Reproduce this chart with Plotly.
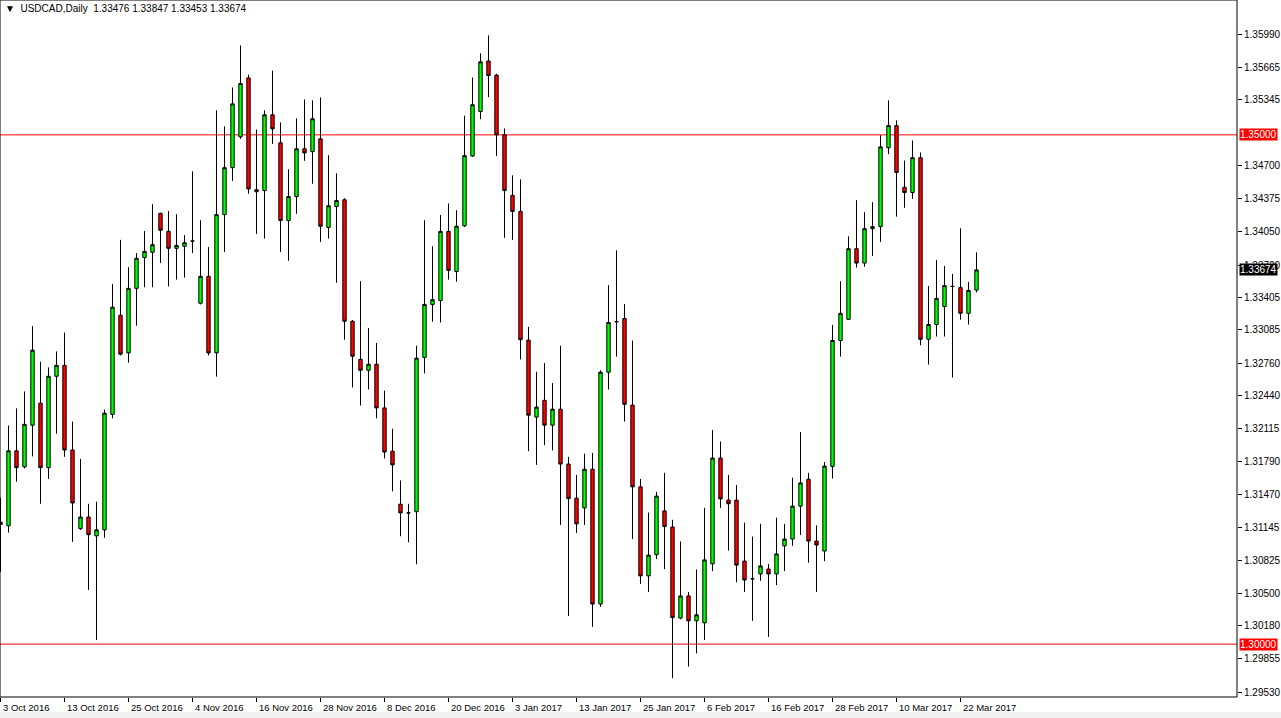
import plotly.graph_objects as go

# ---- data (USDCAD daily, 3 Oct 2016 .. 24 Mar 2017), one entry per trading bar ----
opens = [1.31197, 1.31162, 1.31898, 1.31741, 1.32150, 1.32366, 1.31733, 1.32630, 1.32737, 1.31906,
         1.31134, 1.31248, 1.31063, 1.31122, 1.32256, 1.33229, 1.32859, 1.33493, 1.33796, 1.33847,
         1.34229, 1.34052, 1.33886, 1.33906, 1.33957, 1.33347, 1.33611, 1.32859, 1.34217, 1.34678,
         1.34981, 1.35559, 1.34461, 1.34453, 1.35197, 1.34922, 1.34158, 1.34394, 1.34863, 1.34835,
         1.34961, 1.34091, 1.34296, 1.34363, 1.33170, 1.32796, 1.32689, 1.32748, 1.32319, 1.31894,
         1.31374, 1.31288, 1.31300, 1.32815, 1.33335, 1.33374, 1.34052, 1.33658, 1.34107, 1.34792,
         1.35229, 1.35725, 1.35587, 1.35000, 1.34406, 1.34248, 1.32985, 1.32229, 1.32394, 1.32150,
         1.32307, 1.31768, 1.31433, 1.31337, 1.31717, 1.30394, 1.32670, 1.33166, 1.33197, 1.32347,
         1.31544, 1.30670, 1.30878, 1.31308, 1.31150, 1.30256, 1.30473, 1.30229, 1.30209, 1.30788,
         1.31827, 1.31414, 1.31414, 1.30815, 1.30642, 1.30689, 1.30737, 1.30689, 1.30965, 1.31032,
         1.31355, 1.31619, 1.31012, 1.30914, 1.31745, 1.32981, 1.33189, 1.33882, 1.33741, 1.34079,
         1.34099, 1.34874, 1.35091, 1.34485, 1.34434, 1.34776, 1.32993, 1.33138, 1.33315, 1.33512,
         1.33500, 1.33248, 1.33476]
highs = [1.31437, 1.32146, 1.32315, 1.32481, 1.33122, 1.32772, 1.32717, 1.32874, 1.33059, 1.32185,
         1.31819, 1.31378, 1.31398, 1.32304, 1.33536, 1.33969, 1.33701, 1.33839, 1.34056, 1.34319,
         1.34237, 1.34252, 1.34221, 1.34016, 1.34642, 1.34162, 1.33898, 1.35241, 1.35083, 1.35465,
         1.35878, 1.35591, 1.35052, 1.35241, 1.35630, 1.35122, 1.34662, 1.35162, 1.35347, 1.35339,
         1.35367, 1.34800, 1.34622, 1.34378, 1.33182, 1.33563, 1.33103, 1.32957, 1.32489, 1.32115,
         1.31607, 1.31378, 1.32930, 1.34162, 1.33906, 1.34213, 1.34327, 1.34260, 1.35189, 1.35563,
         1.35800, 1.35977, 1.35599, 1.35063, 1.34603, 1.34563, 1.33115, 1.32674, 1.32760, 1.32563,
         1.32930, 1.31839, 1.31662, 1.31870, 1.31878, 1.32689, 1.33524, 1.33866, 1.33339, 1.32981,
         1.31622, 1.31292, 1.31496, 1.31682, 1.31221, 1.31008, 1.30512, 1.30733, 1.31339, 1.32103,
         1.31989, 1.31662, 1.31563, 1.31193, 1.31056, 1.31181, 1.30788, 1.31241, 1.31181, 1.31634,
         1.32083, 1.31682, 1.31166, 1.31788, 1.33134, 1.33563, 1.34004, 1.34359, 1.34241, 1.34339,
         1.34996, 1.35339, 1.35142, 1.34748, 1.34945, 1.34827, 1.33516, 1.33772, 1.33713, 1.33634,
         1.34083, 1.33556, 1.33847]
lows = [1.30709, 1.31095, 1.31595, 1.31725, 1.31843, 1.31378, 1.31622, 1.32067, 1.31839, 1.31004,
        1.31122, 1.30532, 1.30040, 1.31044, 1.32217, 1.32835, 1.32764, 1.33126, 1.33504, 1.33504,
        1.33741, 1.33512, 1.33579, 1.33599, 1.33839, 1.33335, 1.32835, 1.32626, 1.33851, 1.34548,
        1.34961, 1.34422, 1.34028, 1.33981, 1.34910, 1.33851, 1.33764, 1.34225, 1.34745, 1.34520,
        1.33949, 1.33981, 1.33548, 1.32989, 1.32520, 1.32343, 1.32500, 1.32217, 1.31823, 1.31500,
        1.31059, 1.31000, 1.30784, 1.32658, 1.33166, 1.33158, 1.33579, 1.33559, 1.34095, 1.34784,
        1.35154, 1.35371, 1.34792, 1.33989, 1.33969, 1.32796, 1.31894, 1.31760, 1.31953, 1.31902,
        1.31170, 1.30276, 1.31091, 1.31170, 1.30170, 1.30366, 1.32500, 1.32823, 1.32185, 1.31032,
        1.30591, 1.30512, 1.30835, 1.30737, 1.29666, 1.30244, 1.29780, 1.29910, 1.30040, 1.30717,
        1.31337, 1.30918, 1.30607, 1.30512, 1.30229, 1.30622, 1.30071, 1.30579, 1.30717, 1.30965,
        1.31071, 1.30800, 1.30512, 1.30815, 1.31626, 1.32823, 1.33182, 1.33697, 1.33705, 1.33811,
        1.33949, 1.34811, 1.34197, 1.34284, 1.34371, 1.32934, 1.32744, 1.33020, 1.33020, 1.32618,
        1.33185, 1.33138, 1.33453]
closes = [1.31174, 1.31898, 1.31733, 1.32158, 1.32886, 1.31733, 1.32630, 1.32737, 1.31906, 1.31386,
          1.31248, 1.31075, 1.31122, 1.32268, 1.33308, 1.32847, 1.33493, 1.33788, 1.33855, 1.33922,
          1.34063, 1.33886, 1.33914, 1.33941, 1.33957, 1.33611, 1.32859, 1.34217, 1.34678, 1.35304,
          1.35504, 1.34469, 1.34441, 1.35197, 1.35059, 1.34158, 1.34394, 1.34863, 1.34823, 1.35158,
          1.34103, 1.34304, 1.34355, 1.33170, 1.32827, 1.32689, 1.32748, 1.32319, 1.31886, 1.31760,
          1.31288, 1.31288, 1.32808, 1.33335, 1.33382, 1.34052, 1.33670, 1.34103, 1.34796, 1.35296,
          1.35717, 1.35583, 1.35000, 1.34453, 1.34248, 1.32989, 1.32248, 1.32327, 1.32150, 1.32307,
          1.31768, 1.31429, 1.31181, 1.31717, 1.30394, 1.32670, 1.33158, 1.33166, 1.32355, 1.31544,
          1.30670, 1.30874, 1.31453, 1.31154, 1.30260, 1.30473, 1.30229, 1.30288, 1.30827, 1.31827,
          1.31426, 1.31378, 1.30776, 1.30630, 1.30642, 1.30768, 1.30689, 1.30886, 1.31032, 1.31355,
          1.31583, 1.31012, 1.30973, 1.31748, 1.32981, 1.33248, 1.33882, 1.33741, 1.34079, 1.34099,
          1.34882, 1.35091, 1.34630, 1.34434, 1.34776, 1.32993, 1.33138, 1.33394, 1.33520, 1.33512,
          1.33248, 1.33473, 1.33674]

date_tick_bars = [0, 8, 16, 24, 32, 40, 48, 56, 64, 72, 80, 88, 96, 104, 112, 120]
date_tick_text = ["3 Oct 2016", "13 Oct 2016", "25 Oct 2016", "4 Nov 2016", "16 Nov 2016",
                  "28 Nov 2016", "8 Dec 2016", "20 Dec 2016", "3 Jan 2017", "13 Jan 2017",
                  "25 Jan 2017", "6 Feb 2017", "16 Feb 2017", "28 Feb 2017", "10 Mar 2017",
                  "22 Mar 2017"]
price_ticks = [1.35990, 1.35665, 1.35345, 1.34700, 1.34375, 1.34050, 1.33720, 1.33405, 1.33085,
               1.32760, 1.32440, 1.32115, 1.31790, 1.31470, 1.31145, 1.30825, 1.30500, 1.30180,
               1.29855, 1.29530]
level_lines = [1.35000, 1.30000]
last_price = 1.33674
title_text = "USDCAD,Daily  1.33476 1.33847 1.33453 1.33674"

bars = list(range(len(opens)))
FONT = "Liberation Sans"

fig = go.Figure()
fig.add_trace(go.Candlestick(
    x=bars, open=opens, high=highs, low=lows, close=closes,
    increasing=dict(fillcolor="#00FF00", line=dict(color="black", width=1)),
    decreasing=dict(fillcolor="#FF0000", line=dict(color="black", width=1)),
    whiskerwidth=0, showlegend=False, hoverinfo="skip",
))

shapes = []
for lv in level_lines:
    shapes.append(dict(type="line", xref="paper", x0=0, x1=1, yref="y", y0=lv, y1=lv,
                       line=dict(color="#FF0000", width=1), layer="below"))
shapes.append(dict(type="rect", xref="paper", yref="paper", x0=0, x1=1, y0=0, y1=1,
                   line=dict(color="black", width=1), fillcolor="rgba(0,0,0,0)"))
shapes.append(dict(type="rect", xref="paper", yref="paper", x0=-0.01, x1=1.05,
                   y0=-21 / 697, y1=-15 / 697, line=dict(width=0), fillcolor="#F0F0F0"))

annotations = []
for b, t in zip(date_tick_bars, date_tick_text):
    annotations.append(dict(x=b, xref="x", y=0, yref="paper", yanchor="top", xanchor="left",
                            yshift=-3, xshift=0, text=t, showarrow=False,
                            font=dict(family=FONT, size=9.5, color="black")))
for lv in level_lines:
    annotations.append(dict(x=1, xref="paper", y=lv, yref="y", xanchor="left", yanchor="middle",
                            xshift=2, text=f"{lv:.5f}", showarrow=False, bgcolor="#FF0000",
                            font=dict(family=FONT, size=10, color="white"), borderpad=0))
annotations.append(dict(x=1, xref="paper", y=last_price, yref="y", xanchor="left", yanchor="middle",
                        xshift=2, text=f"{last_price:.5f}", showarrow=False, bgcolor="black",
                        font=dict(family=FONT, size=10, color="white"), borderpad=0))
annotations.append(dict(x=0, xref="paper", y=1, yref="paper", xanchor="left", yanchor="top",
                        xshift=3, yshift=-1, text="▼  " + title_text, showarrow=False,
                        font=dict(family=FONT, size=10, color="black")))

fig.update_layout(
    width=1281, height=718,
    margin=dict(l=0, r=44, t=0, b=21),
    paper_bgcolor="white", plot_bgcolor="white",
    xaxis=dict(range=[-0.0625, 154.5625], rangeslider=dict(visible=False), showgrid=False,
               zeroline=False, tickmode="array", tickvals=date_tick_bars, ticktext=[""] * len(date_tick_bars),
               ticks="outside", ticklen=4, tickcolor="black", showticklabels=False, fixedrange=True),
    yaxis=dict(range=[1.29481, 1.36324], side="right", showgrid=False, zeroline=False,
               tickmode="array", tickvals=price_ticks, ticktext=[f"{v:.5f}" for v in price_ticks],
               ticks="outside", ticklen=4, tickcolor="black",
               tickfont=dict(family=FONT, size=10, color="black"), fixedrange=True),
    boxgap=0.4,
    shapes=shapes, annotations=annotations,
)

fig.write_html("out.html", config={"displayModeBar": False},
               post_script="document.body.style.margin='0';document.body.style.overflow='hidden';")
